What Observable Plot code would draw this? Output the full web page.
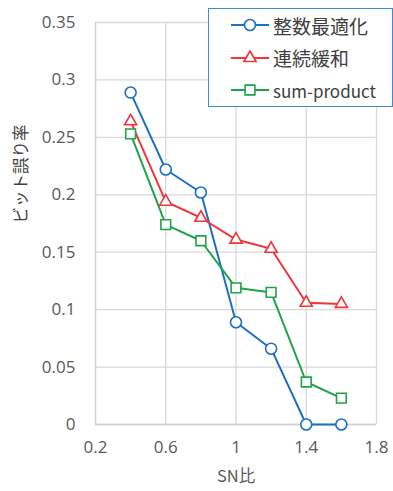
<!DOCTYPE html>
<html>
<head>
<meta charset="utf-8">
<script src="https://cdn.jsdelivr.net/npm/d3@7"></script>
<script src="https://cdn.jsdelivr.net/npm/@observablehq/plot@0.6"></script>
<style>
  html, body { margin: 0; padding: 0; background: #fff; }
  #wrap { position: relative; width: 393px; height: 491px; font-family: "Noto Sans CJK JP", "Noto Sans", sans-serif; }
  #legend { position: absolute; left: 208px; top: 8px; width: 185px; height: 99px; box-sizing: border-box;
            border: 1.5px solid #3d8ad6; background: #fff; }
  .item { position: absolute; left: 21px; display: flex; align-items: center; color: #404040; line-height: 1; }
  .item svg { margin-right: 3px; }
  .ticks text { font-family: "Open Sans", sans-serif; }
</style>
</head>
<body>
<div id="wrap"><div id="legend"></div></div>
<script>
// SN ratio values on the x axis
const snr = [0.4, 0.6, 0.8, 1.0, 1.2, 1.4, 1.6];
// bit error rates per decoding method
const integerOpt = [0.289, 0.222, 0.202, 0.089, 0.066, 0, 0];
const relaxation = [0.264, 0.194, 0.180, 0.161, 0.153, 0.106, 0.105];
const sumProduct = [0.253, 0.174, 0.160, 0.119, 0.115, 0.037, 0.023];

const seriesNames = ["整数最適化", "連続緩和", "sum-product"];
const seriesColors = ["#1f6fc0", "#f0353a", "#1fa34a"];
const seriesSymbols = ["circle", "triangle", "square"];
const seriesR = [5.5, 4.5, 5.5];

const xTicks = [0.2, 0.6, 1, 1.4, 1.8];
const xTickLabels = ["0.2", "0.6", "1", "1.4", "1.8"];
const yTicks = [0, 0.05, 0.1, 0.15, 0.2, 0.25, 0.3, 0.35];
const yTickLabels = ["0", "0.05", "0.1", "0.15", "0.2", "0.25", "0.3", "0.35"];

const rows = [];
[integerOpt, relaxation, sumProduct].forEach((vals, i) => {
  vals.forEach((v, j) => rows.push({series: seriesNames[i], x: snr[j], y: v}));
});

const labelOf = (ticks, labels) => d => labels[ticks.findIndex(t => Math.abs(t - d) < 1e-9)];
const font = '"Noto Sans CJK JP", "Noto Sans", sans-serif';

const chart = Plot.plot({
  width: 393,
  height: 491,
  marginLeft: 95,
  marginRight: 17,
  marginTop: 22,
  marginBottom: 67,
  style: {fontFamily: font, background: "#fff"},
  x: {domain: [0.2, 1.8]},
  y: {domain: [0, 0.35]},
  color: {domain: seriesNames, range: seriesColors},
  symbol: {domain: seriesNames, range: seriesSymbols},
  marks: [
    Plot.gridX(xTicks, {stroke: "#d9d9d9", strokeOpacity: 1, strokeWidth: 1.3}),
    Plot.gridY(yTicks, {stroke: "#d9d9d9", strokeOpacity: 1, strokeWidth: 1.3}),
    Plot.ruleX([0.2], {stroke: "#d0d0d0", strokeWidth: 1.3}),
    Plot.ruleY([0], {stroke: "#d0d0d0", strokeWidth: 1.3}),
    Plot.axisX({ticks: xTicks, tickSize: 0, tickPadding: 16, label: null, fontSize: 17, fill: "#595959",
                className: "ticks", tickFormat: labelOf(xTicks, xTickLabels)}),
    Plot.axisY({ticks: yTicks, tickSize: 0, tickPadding: 20, label: null, fontSize: 17, fill: "#595959",
                className: "ticks", tickFormat: labelOf(yTicks, yTickLabels)}),
    Plot.line(rows, {x: "x", y: "y", z: "series", stroke: "series", strokeWidth: 2}),
    ...seriesNames.map((name, i) =>
      Plot.dot(rows.filter(d => d.series === name), {x: "x", y: "y", stroke: "series", symbol: "series", fill: "white", r: seriesR[i], strokeWidth: 1.6})
    ),
    Plot.text(["ビット誤り率"], {frameAnchor: "left", dx: -74, rotate: -90, fontSize: 16.5, fill: "#404040", text: d => d}),
    Plot.text(["SN比"], {frameAnchor: "bottom", dy: 57, fontSize: 16.5, fill: "#595959", text: d => d})
  ]
});
document.getElementById("wrap").prepend(chart);

// legend entries: line with marker, then series name
const legend = d3.select("#legend");
seriesNames.forEach((name, i) => {
  const item = legend.append("div").attr("class", "item").style("top", (5 + i * 32.5) + "px").style("height", "22px")
    .style("font-size", /^[\x00-\x7f]+$/.test(name) ? "17px" : "19px");
  const s = item.append("svg").attr("width", 40).attr("height", 16);
  s.append("line").attr("x1", 1).attr("x2", 39).attr("y1", 8).attr("y2", 8)
    .attr("stroke", seriesColors[i]).attr("stroke-width", 2);
  s.append("path").attr("transform", "translate(20,8)")
    .attr("d", d3.symbol(d3["symbol" + seriesSymbols[i][0].toUpperCase() + seriesSymbols[i].slice(1)], Math.PI * seriesR[i] * seriesR[i])())
    .attr("fill", "white").attr("stroke", seriesColors[i]).attr("stroke-width", 1.6);
  item.append("span").text(name);
});
</script>
</body>
</html>
